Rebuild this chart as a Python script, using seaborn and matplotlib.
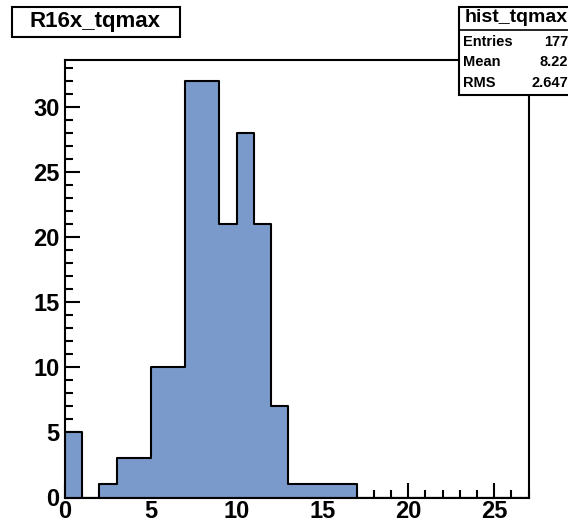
import numpy as np
import pandas as pd
import matplotlib
matplotlib.use("Agg")
import matplotlib.pyplot as plt
import seaborn as sns
from matplotlib.patches import Rectangle

# data
bin_edges = list(range(0, 28))
counts = [5, 0, 1, 3, 3, 10, 10, 32, 32, 21, 28, 21, 7, 1, 1, 1, 1,
          0, 0, 0, 0, 0, 0, 0, 0, 0, 0]
hist_title = "R16x_tqmax"
stats_name = "hist_tqmax"
stats_labels = ["Entries", "Mean", "RMS"]
stats_values = ["177", "8.22", "2.647"]

centers = [e + 0.5 for e in bin_edges[:-1]]
df = pd.DataFrame({"x": centers, "w": counts})

sns.set_style("white")
plt.rcParams['font.family'] = ['Liberation Sans', 'DejaVu Sans']
plt.rcParams['text.color'] = 'black'
plt.rcParams['xtick.color'] = 'black'
plt.rcParams['ytick.color'] = 'black'
plt.rcParams['xtick.labelcolor'] = 'black'
plt.rcParams['ytick.labelcolor'] = 'black'

W, H = 568, 522
fig = plt.figure(figsize=(W / 100, H / 100), dpi=100)
ax = fig.add_axes([65 / W, 1 - 497.5 / H, (528.5 - 65) / W, (497.5 - 60) / H])

sns.histplot(data=df, x="x", weights="w", bins=bin_edges, element="step",
             fill=True, color="#7b9acc", alpha=1.0, edgecolor="black",
             linewidth=1.5, ax=ax)

ax.set_xlim(0, 27)
ax.set_ylim(0, 1.05 * max(counts))
ax.set_xlabel("")
ax.set_ylabel("")
for s in ax.spines.values():
    s.set_visible(True)
    s.set_color("black")
    s.set_linewidth(1.5)

ax.set_xticks(range(0, 27, 5))
ax.set_xticks(range(0, 28), minor=True)
ax.set_yticks(range(0, 31, 5))
ax.set_yticks(range(0, 34), minor=True)
ax.tick_params(axis="both", which="major", direction="in", length=10.5,
               width=1.5, labelsize=17, color="black", labelcolor="black",
               top=False, right=False, bottom=True, left=True)
ax.tick_params(axis="both", which="minor", direction="in", length=5.5,
               width=1.5, color="black", top=False, right=False,
               bottom=True, left=True)
ax.tick_params(axis="x", which="major", pad=2)
ax.tick_params(axis="y", which="major", pad=4)
for lab in ax.get_xticklabels() + ax.get_yticklabels():
    lab.set_fontweight("bold")

# title box
fig.patches.append(Rectangle((12 / W, 1 - 37 / H), (180 - 12) / W, (37 - 7) / H,
                             transform=fig.transFigure, facecolor="white",
                             edgecolor="black", linewidth=1.5, zorder=5))
fig.text(95 / W, 1 - 21 / H, hist_title, ha="center", va="center",
         fontsize=16, fontweight="bold", zorder=6)

# stats box
bx0, by0, by1 = 459, 7, 95
fig.patches.append(Rectangle((bx0 / W, 1 - by1 / H), (W + 5 - bx0) / W, (by1 - by0) / H,
                             transform=fig.transFigure, facecolor="white",
                             edgecolor="black", linewidth=1.5, zorder=5,
                             clip_on=False))
fig.lines.append(plt.Line2D([bx0 / W, 1], [1 - 30 / H, 1 - 30 / H],
                            transform=fig.transFigure, color="black",
                            linewidth=1.2, zorder=6))
fig.text(465 / W, 1 - 18 / H, stats_name, ha="left", va="center",
         fontsize=14, fontweight="bold", zorder=6)
for i, (lab, val) in enumerate(zip(stats_labels, stats_values)):
    y = 1 - (42 + 20.5 * i) / H
    fig.text(463 / W, y, lab, ha="left", va="center", fontsize=10.5,
             fontweight="bold", zorder=6)
    fig.text(568 / W, y, val, ha="right", va="center", fontsize=10.5,
             fontweight="bold", zorder=6)

fig.savefig("out.png", dpi=100)
